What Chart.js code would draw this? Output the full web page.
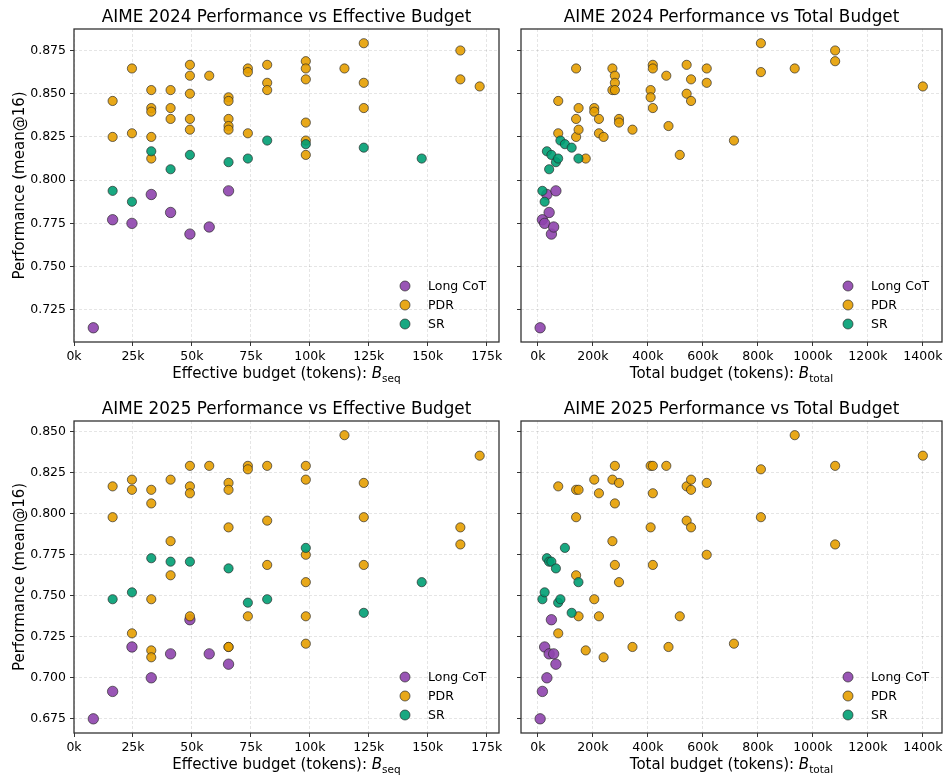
<!DOCTYPE html>
<html>
<head>
<meta charset="utf-8">
<script src="https://cdn.jsdelivr.net/npm/chart.js@4.4.0/dist/chart.umd.min.js"></script>
<style>
  body { margin: 0; background: #fff; }
  .panel { position: absolute; }
</style>
</head>
<body>
<div class="panel" style="left:0;top:0"><canvas id="c24seq" width="510" height="385"></canvas></div>
<div class="panel" style="left:510px;top:0"><canvas id="c24tot" width="438" height="385"></canvas></div>
<div class="panel" style="left:0;top:385px"><canvas id="c25seq" width="510" height="390"></canvas></div>
<div class="panel" style="left:510px;top:385px"><canvas id="c25tot" width="438" height="390"></canvas></div>
<script>
// tick labels
const seqTicks = [0, 25000, 50000, 75000, 100000, 125000, 150000, 175000];
const totalTicks = [0, 200000, 400000, 600000, 800000, 1000000, 1200000, 1400000];
const ticks24 = [0.725, 0.75, 0.775, 0.8, 0.825, 0.85, 0.875];
const ticks25 = [0.675, 0.7, 0.725, 0.75, 0.775, 0.8, 0.825, 0.85];

// Long CoT and SR: total budget == effective budget
const longBudget = [8192, 16384, 24576, 32768, 40960, 49152, 57344, 65536];
const long24 = [0.7146, 0.7771, 0.7750, 0.7917, 0.7813, 0.7688, 0.7729, 0.7938];
const long25 = [0.6750, 0.6917, 0.7188, 0.7000, 0.7146, 0.7354, 0.7146, 0.7083];

const srBudget = [16384, 24576, 32768, 40960, 49152, 65536, 73728, 81920, 98304, 122880, 147456];
const sr24 = [0.7938, 0.7875, 0.8167, 0.8063, 0.8146, 0.8104, 0.8125, 0.8229, 0.8208, 0.8188, 0.8125];
const sr25 = [0.7479, 0.7521, 0.7729, 0.7708, 0.7708, 0.7667, 0.7458, 0.7479, 0.7792, 0.7396, 0.7583];

// PDR, AIME 2024
const pdr24SeqX = [16384, 16384, 24576, 24576, 32768, 32768, 32768, 32768, 32768, 40960, 40960, 40960,
  49152, 49152, 49152, 49152, 49152, 57344, 65536, 65536, 65536, 65536, 65536, 73728, 73728, 73728,
  81920, 81920, 81920, 98304, 98304, 98304, 98304, 98304, 98304, 114688, 122880, 122880, 122880,
  163840, 163840, 172032];
const pdr24SeqY = [0.8458, 0.8250, 0.8646, 0.8271, 0.8521, 0.8417, 0.8396, 0.8250, 0.8125, 0.8521, 0.8417, 0.8354,
  0.8667, 0.8604, 0.8500, 0.8354, 0.8292, 0.8604, 0.8479, 0.8458, 0.8354, 0.8313, 0.8292, 0.8646, 0.8625, 0.8271,
  0.8667, 0.8563, 0.8521, 0.8688, 0.8646, 0.8583, 0.8333, 0.8229, 0.8146, 0.8646, 0.8792, 0.8563, 0.8417,
  0.8750, 0.8583, 0.8542];
const pdr24TotX = [74000, 74000, 139000, 139000, 139000, 148000, 148000, 174000, 205000, 205000, 222000, 222000,
  239000, 271000, 271000, 280000, 280000, 280000, 295000, 295000, 344000, 410000, 410000, 418000, 418000, 418000,
  467000, 475000, 516000, 541000, 541000, 557000, 557000, 614000, 614000, 713000, 811000, 811000, 934000,
  1081000, 1081000, 1400000];
const pdr24TotY = [0.8458, 0.8271, 0.8646, 0.8354, 0.8250, 0.8417, 0.8292, 0.8125, 0.8417, 0.8396, 0.8354, 0.8271,
  0.8250, 0.8646, 0.8521, 0.8604, 0.8563, 0.8521, 0.8354, 0.8333, 0.8292, 0.8521, 0.8479, 0.8667, 0.8646, 0.8417,
  0.8604, 0.8313, 0.8146, 0.8667, 0.8500, 0.8583, 0.8458, 0.8646, 0.8563, 0.8229, 0.8792, 0.8625, 0.8646,
  0.8750, 0.8688, 0.8542];

// PDR, AIME 2025
const pdr25SeqX = [16384, 16384, 24576, 24576, 24576, 32768, 32768, 32768, 32768, 32768, 40960, 40960, 40960,
  49152, 49152, 49152, 49152, 57344, 65536, 65536, 65536, 65536, 65536, 73728, 73728, 73728,
  81920, 81920, 81920, 98304, 98304, 98304, 98304, 98304, 98304, 114688, 122880, 122880, 122880,
  163840, 163840, 172032];
const pdr25SeqY = [0.8167, 0.7979, 0.8208, 0.8146, 0.7271, 0.8146, 0.8063, 0.7479, 0.7167, 0.7125, 0.8208, 0.7833, 0.7625,
  0.8292, 0.8167, 0.8125, 0.7375, 0.8292, 0.8188, 0.8146, 0.7917, 0.7188, 0.7188, 0.8292, 0.8271, 0.7375,
  0.8292, 0.7958, 0.7688, 0.8292, 0.8208, 0.7750, 0.7583, 0.7375, 0.7208, 0.8479, 0.8188, 0.7979, 0.7688,
  0.7917, 0.7813, 0.8354];
const pdr25TotX = [74000, 74000, 139000, 139000, 139000, 148000, 148000, 174000, 205000, 205000, 222000, 222000,
  239000, 271000, 271000, 280000, 280000, 280000, 295000, 295000, 344000, 410000, 410000, 418000, 418000, 418000,
  467000, 475000, 516000, 541000, 541000, 557000, 557000, 557000, 614000, 614000, 713000, 811000, 811000, 934000,
  1081000, 1081000, 1400000];
const pdr25TotY = [0.8167, 0.7271, 0.8146, 0.7979, 0.7625, 0.8146, 0.7375, 0.7167, 0.8208, 0.7479, 0.8125, 0.7375,
  0.7125, 0.8208, 0.7833, 0.8292, 0.8063, 0.7688, 0.8188, 0.7583, 0.7188, 0.8292, 0.7917, 0.8292, 0.8125, 0.7688,
  0.8292, 0.7188, 0.7375, 0.8167, 0.7958, 0.8208, 0.8146, 0.7917, 0.8188, 0.7750, 0.7208, 0.8271, 0.7979, 0.8479,
  0.8292, 0.7813, 0.8354];

const FONT = '"DejaVu Sans", sans-serif';
const colLong = 'rgba(142,68,173,0.9)', colPDR = 'rgba(230,159,0,0.9)', colSR = 'rgba(0,158,115,0.9)';

function pts(xs, ys) { return xs.map((x, i) => ({x: x, y: ys[i]})); }

// matplotlib-like 5% margins
function pad(vals) {
  const lo = Math.min(...vals), hi = Math.max(...vals), m = (hi - lo) * 0.05;
  return {min: lo - m, max: hi + m};
}

function kfmt(v) { return (v / 1000) + 'k'; }

function makeChart(id, cfg) {
  const deco = {
    id: 'deco',
    afterDatasetsDraw(chart) {
      const {ctx, chartArea: a} = chart;
      ctx.save();
      // frame
      ctx.strokeStyle = '#333';
      ctx.lineWidth = 1.3;
      ctx.strokeRect(a.left, a.top, a.right - a.left, a.bottom - a.top);
      // title
      ctx.fillStyle = '#000';
      ctx.textAlign = 'center';
      ctx.textBaseline = 'alphabetic';
      ctx.font = '16.8px ' + FONT;
      ctx.fillText(cfg.title, (a.left + a.right) / 2, a.top - 7);
      // x label with subscript
      ctx.font = '15px ' + FONT;
      const w1 = ctx.measureText(cfg.xMain).width;
      ctx.font = 'italic 15px ' + FONT;
      const w2 = ctx.measureText('B').width;
      ctx.font = '10.5px ' + FONT;
      const w3 = ctx.measureText(cfg.xSub).width;
      let x = (a.left + a.right) / 2 - (w1 + w2 + w3) / 2;
      const y = a.bottom + 36;
      ctx.textAlign = 'left';
      ctx.font = '15px ' + FONT;
      ctx.fillText(cfg.xMain, x, y);
      x += w1;
      ctx.font = 'italic 15px ' + FONT;
      ctx.fillText('B', x, y);
      x += w2;
      ctx.font = '10.5px ' + FONT;
      ctx.fillText(cfg.xSub, x, y + 3.5);
      // y label
      if (cfg.yLabels) {
        ctx.save();
        ctx.translate(24, (a.top + a.bottom) / 2);
        ctx.rotate(-Math.PI / 2);
        ctx.textAlign = 'center';
        ctx.font = '15px ' + FONT;
        ctx.fillText('Performance (mean@16)', 0, 0);
        ctx.restore();
      }
      // legend, lower right
      chart.data.datasets.forEach((ds, i) => {
        const cy = a.bottom - 56 + i * 19, cx = a.right - 94;
        ctx.beginPath();
        ctx.arc(cx, cy, 5, 0, Math.PI * 2);
        ctx.fillStyle = ds.backgroundColor;
        ctx.fill();
        ctx.lineWidth = 0.8;
        ctx.strokeStyle = ds.borderColor;
        ctx.stroke();
        ctx.fillStyle = '#000';
        ctx.font = '12.5px ' + FONT;
        ctx.textBaseline = 'middle';
        ctx.fillText(ds.label, cx + 23, cy + 1);
        ctx.textBaseline = 'alphabetic';
      });
      ctx.restore();
    }
  };

  const grid = {color: 'rgba(0,0,0,0.13)', lineWidth: 0.8, tickLength: 4, tickColor: '#333', tickWidth: 1};
  const border = {display: false, dash: [3, 2]};

  return new Chart(document.getElementById(id), {
    type: 'scatter',
    data: {
      datasets: [
        {label: 'Long CoT', data: cfg.long, backgroundColor: colLong, borderColor: 'rgba(40,40,40,0.85)',
          borderWidth: 0.8, pointRadius: 5.2, order: 3},
        {label: 'PDR', data: cfg.pdr, backgroundColor: colPDR, borderColor: 'rgba(40,40,40,0.85)',
          borderWidth: 0.8, pointRadius: 4.6, order: 2},
        {label: 'SR', data: cfg.sr, backgroundColor: colSR, borderColor: 'rgba(40,40,40,0.85)',
          borderWidth: 0.8, pointRadius: 4.6, order: 1}
      ]
    },
    options: {
      responsive: false,
      animation: false,
      events: [],
      layout: {padding: {left: 0, top: cfg.top, right: cfg.right, bottom: 0}},
      plugins: {legend: {display: false}, tooltip: {enabled: false}},
      scales: {
        x: {
          type: 'linear', min: cfg.xRange.min, max: cfg.xRange.max,
          grid: grid, border: border,
          afterFit: s => { s.height = cfg.xHeight; },
          afterBuildTicks: s => { s.ticks = cfg.xTicks.map(v => ({value: v})); },
          ticks: {font: {family: FONT, size: 12.5}, color: '#000', padding: 3, maxRotation: 0, autoSkip: false,
            callback: v => kfmt(v)}
        },
        y: {
          type: 'linear', min: cfg.yRange.min, max: cfg.yRange.max,
          grid: grid, border: border,
          afterFit: s => { s.width = cfg.yWidth; },
          afterBuildTicks: s => { s.ticks = cfg.yTicks.map(v => ({value: v})); },
          ticks: {display: cfg.yLabels, font: {family: FONT, size: 12.5}, color: '#000', padding: 4, autoSkip: false,
            callback: v => v.toFixed(3)}
        }
      }
    },
    plugins: [deco]
  });
}

const seqRange = pad(longBudget.concat(srBudget, pdr24SeqX, pdr25SeqX));
const totRange = pad(longBudget.concat(srBudget, pdr24TotX, pdr25TotX));
const y24 = pad(long24.concat(sr24, pdr24SeqY));
const y25 = pad(long25.concat(sr25, pdr25SeqY));

makeChart('c24seq', {
  title: 'AIME 2024 Performance vs Effective Budget', xMain: 'Effective budget (tokens): ', xSub: 'seq',
  long: pts(longBudget, long24), pdr: pts(pdr24SeqX, pdr24SeqY), sr: pts(srBudget, sr24),
  xRange: seqRange, yRange: y24, xTicks: seqTicks, yTicks: ticks24, yLabels: true,
  top: 29, right: 11, yWidth: 74, xHeight: 43
});
makeChart('c24tot', {
  title: 'AIME 2024 Performance vs Total Budget', xMain: 'Total budget (tokens): ', xSub: 'total',
  long: pts(longBudget, long24), pdr: pts(pdr24TotX, pdr24TotY), sr: pts(srBudget, sr24),
  xRange: totRange, yRange: y24, xTicks: totalTicks, yTicks: ticks24, yLabels: false,
  top: 29, right: 2, yWidth: 11, xHeight: 43
});
makeChart('c25seq', {
  title: 'AIME 2025 Performance vs Effective Budget', xMain: 'Effective budget (tokens): ', xSub: 'seq',
  long: pts(longBudget, long25), pdr: pts(pdr25SeqX, pdr25SeqY), sr: pts(srBudget, sr25),
  xRange: seqRange, yRange: y25, xTicks: seqTicks, yTicks: ticks25, yLabels: true,
  top: 36, right: 11, yWidth: 74, xHeight: 42
});
makeChart('c25tot', {
  title: 'AIME 2025 Performance vs Total Budget', xMain: 'Total budget (tokens): ', xSub: 'total',
  long: pts(longBudget, long25), pdr: pts(pdr25TotX, pdr25TotY), sr: pts(srBudget, sr25),
  xRange: totRange, yRange: y25, xTicks: totalTicks, yTicks: ticks25, yLabels: false,
  top: 36, right: 2, yWidth: 11, xHeight: 42
});
</script>
</body>
</html>
